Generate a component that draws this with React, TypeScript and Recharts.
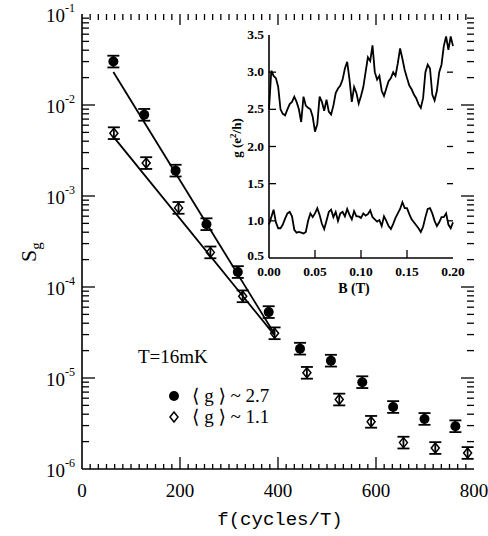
import React from 'react';
import { ComposedChart, Line, Scatter, ErrorBar, XAxis, YAxis } from 'recharts';

const SERIF = '"Liberation Serif", "Times New Roman", "DejaVu Serif", serif';
const MONO = '"Liberation Mono", "Courier New", "DejaVu Sans Mono", monospace';

// main panel: S_g vs f, <g> ~ 2.7 (filled) and <g> ~ 1.1 (open)
const fFilled = [64, 127, 191, 254, 318, 381, 445, 508, 572, 635, 699, 762];
const sFilled = [0.03, 0.0078, 0.0019, 4.9e-4, 1.46e-4, 5.3e-5, 2.1e-5, 1.55e-5, 9.0e-6, 4.8e-6, 3.55e-6, 2.95e-6];
const fOpen = [65, 131, 197, 262, 328, 393, 459, 525, 590, 656, 721, 787];
const sOpen = [0.0049, 0.0023, 7.4e-4, 2.4e-4, 7.9e-5, 3.1e-5, 1.14e-5, 5.8e-6, 3.3e-6, 1.95e-6, 1.7e-6, 1.5e-6];
const ERR = 1.16; // error bars, roughly +/-16 %

// straight fits (in log) drawn over the first six points
const fitFilledF = [64, 392];
const fitFilledS = [0.023, 3.1e-5];
const fitOpenF = [64, 392];
const fitOpenS = [0.0045, 3.0e-5];

// inset: g(B) traces
const B_STEP = 0.0025;
const gHigh = [
  2.5, 3.02, 2.95, 2.92, 2.8, 2.5, 2.44, 2.42, 2.5, 2.57, 2.6, 2.67, 2.6, 2.5, 2.33, 2.67, 2.55, 2.52, 2.5, 2.4,
  2.2, 2.3, 2.67, 2.6, 2.48, 2.63, 2.47, 2.43, 2.55, 2.72, 2.78, 2.82, 2.9, 3.05, 3.14, 2.9, 2.6, 2.8, 2.72, 2.58,
  2.68, 2.8, 3.0, 3.2, 3.15, 3.36, 3.0, 2.9, 2.95, 2.75, 2.68, 2.78, 2.88, 2.92, 3.0, 2.95, 3.12, 3.32, 3.18, 3.03,
  2.92, 2.82, 2.77, 2.7, 2.65, 2.57, 2.52, 2.65, 3.0, 3.1, 3.05, 2.7, 2.62, 2.75, 3.0, 3.1, 3.35, 3.48, 3.3, 3.48,
  3.35,
];
const gLow = [
  0.95, 1.05, 1.15, 0.98, 0.9, 0.9, 0.95, 1.03, 1.1, 1.12, 1.06, 0.88, 0.84, 0.85, 0.84, 0.83, 0.85, 1.0, 1.1, 1.05,
  1.1, 1.17, 1.08, 0.96, 0.89, 1.0, 1.12, 1.15, 1.05, 1.12, 1.0, 1.1, 1.12, 1.06, 1.16, 1.08, 1.02, 1.13, 1.06, 1.06,
  1.04, 1.1, 1.07, 1.09, 1.14, 1.05, 1.02, 0.99, 1.01, 0.93, 1.06, 1.0, 0.93, 0.89, 0.96, 1.04, 1.1, 1.16, 1.25, 1.17,
  1.17, 1.09, 1.02, 0.98, 0.94, 0.9, 0.85, 0.92, 1.05, 1.16, 1.17, 1.1, 1.0, 0.93, 0.98, 1.05, 1.05, 1.1, 0.95, 0.9,
  0.98,
];

// ticks
const X_MIN = 0;
const X_MAX = 800;
const Y_MIN = 1e-6;
const Y_MAX = 1e-1;
const xLabelTicks = [0, 200, 400, 600, 800];
const xTicks = Array.from({ length: 49 }, (_, i) => (i * 200) / 12);
const decades = [1e-6, 1e-5, 1e-4, 1e-3, 1e-2, 1e-1];
const yTicks: number[] = [];
decades.forEach((d, i) => {
  yTicks.push(d);
  if (i < decades.length - 1) for (let k = 2; k <= 9; k++) yTicks.push(d * k);
});
const insetYTicks = [0.5, 1.0, 1.5, 2.0, 2.5, 3.0, 3.5];
const insetYInner = [1.0, 1.5, 2.0, 2.5, 3.0];
const insetXTicks = [0, 0.05, 0.1, 0.15, 0.2];
const insetXInner = [0.05, 0.1, 0.15];

const withErr = (f: number[], s: number[]) =>
  f.map((x, i) => ({ f: x, s: s[i], err: [s[i] - s[i] / ERR, s[i] * ERR - s[i]] }));
const filledData = withErr(fFilled, sFilled);
const openData = withErr(fOpen, sOpen);
const fitFilled = fitFilledF.map((x, i) => ({ f: x, s: fitFilledS[i] }));
const fitOpen = fitOpenF.map((x, i) => ({ f: x, s: fitOpenS[i] }));
const insetData = gHigh.map((g, i) => ({ b: i * B_STEP, hi: g, lo: gLow[i] }));

// tick-mark anchors on the frame, placed through the chart scales
const innerX = xTicks.filter((v) => v > X_MIN && v < X_MAX);
const innerY = yTicks.filter((v) => v > Y_MIN && v < Y_MAX);
const bottomMarks = innerX.map((f) => ({ f, s: Y_MIN }));
const topMarks = innerX.map((f) => ({ f, s: Y_MAX }));
const leftMarks = innerY.map((s) => ({ f: X_MIN, s }));
const rightMarks = innerY.map((s) => ({ f: X_MAX, s }));
const insetBottomMarks = insetXInner.map((b) => ({ b, m: 0.5 }));
const insetLeftMarks = insetYInner.map((m) => ({ b: 0, m }));
const insetRightMarks = insetYInner.map((m) => ({ b: 0.2, m }));

const isDecade = (v: number) => Math.abs(Math.log10(v) - Math.round(Math.log10(v))) < 1e-6;
const isMajorX = (v: number) => Math.abs(v - Math.round(v)) < 1e-6 && Math.round(v) % 200 === 0;

const mark = (d: string) => <path d={d} stroke="#000" strokeWidth={1.3} fill="none" />;
const BottomMark = (p: any) => mark(`M${p.cx},${p.cy}V${p.cy - (isMajorX(p.payload.f) ? 12 : 5)}`);
const TopMark = (p: any) => mark(`M${p.cx},${p.cy}V${p.cy + (isMajorX(p.payload.f) ? 11 : 6)}`);
const LeftMark = (p: any) => mark(`M${p.cx},${p.cy}H${p.cx + (isDecade(p.payload.s) ? 13 : 7)}`);
const RightMark = (p: any) => mark(`M${p.cx},${p.cy}H${p.cx - (isDecade(p.payload.s) ? 13 : 7)}`);
const InsetBottomMark = (p: any) => mark(`M${p.cx},${p.cy}V${p.cy - 8}`);
const InsetLeftMark = (p: any) => mark(`M${p.cx},${p.cy}H${p.cx + 7}`);
const InsetRightMark = (p: any) => mark(`M${p.cx},${p.cy}H${p.cx - 6}`);

// axis labels (x/y arrive on the axis line: tickSize 0, tickMargin 0)
const BottomLabel = ({ x, y, payload }: any) => (
  <text x={x} y={y + 28} textAnchor="middle" fontSize={19} fontFamily={SERIF} fill="#000">
    {Math.round(payload.value)}
  </text>
);

const LeftLabel = ({ x, y, payload }: any) => (
  <text x={x - 7} y={y + 8} textAnchor="end" fontSize={19} fontFamily={SERIF} fill="#000">
    10
    <tspan dy={-10} fontSize={12}>
      {Math.round(Math.log10(payload.value))}
    </tspan>
  </text>
);

const InsetLeftLabel = ({ x, y, payload }: any) => (
  <text x={x - 5} y={y + (payload.value === 0.5 ? 2 : 4)} textAnchor="end" fontSize={13.5} fontWeight="bold" fontFamily={SERIF} fill="#000">
    {payload.value.toFixed(1)}
  </text>
);

const InsetBottomLabel = ({ x, y, payload }: any) => (
  <text x={x} y={y + 18} textAnchor="middle" fontSize={13.5} fontWeight="bold" fontFamily={SERIF} fill="#000">
    {payload.value.toFixed(2)}
  </text>
);

const FilledDot = (p: any) => <circle cx={p.cx} cy={p.cy} r={5} fill="#000" />;
const OpenDiamond = (p: any) => (
  <path
    d={`M${p.cx},${p.cy - 5} L${p.cx + 4},${p.cy} L${p.cx},${p.cy + 5} L${p.cx - 4},${p.cy} Z`}
    fill="none"
    stroke="#000"
    strokeWidth={1.5}
  />
);

const axisStroke = { stroke: '#000', strokeWidth: 1.6 };

export default function App() {
  return (
    <div style={{ position: 'relative', width: 488, height: 536, background: '#fff' }}>
      <style>{'body{margin:0;background:#fff}'}</style>
      <ComposedChart width={488} height={536} margin={{ top: 14, right: 14, bottom: 37, left: 22 }}>
        <XAxis
          type="number"
          dataKey="f"
          domain={[X_MIN, X_MAX]}
          ticks={xLabelTicks}
          interval={0}
          height={30}
          tick={BottomLabel}
          tickLine={false}
          tickSize={0}
          tickMargin={0}
          axisLine={axisStroke}
          allowDataOverflow
        />
        <XAxis
          xAxisId="top"
          orientation="top"
          type="number"
          dataKey="f"
          domain={[X_MIN, X_MAX]}
          height={0}
          tick={false}
          tickLine={false}
          axisLine={axisStroke}
          allowDataOverflow
        />
        <YAxis
          type="number"
          scale="log"
          domain={[Y_MIN, Y_MAX]}
          ticks={decades}
          interval={0}
          width={60}
          tick={LeftLabel}
          tickLine={false}
          tickSize={0}
          tickMargin={0}
          axisLine={axisStroke}
          allowDataOverflow
        />
        <YAxis
          yAxisId="right"
          orientation="right"
          type="number"
          scale="log"
          domain={[Y_MIN, Y_MAX]}
          width={0}
          tick={false}
          tickLine={false}
          axisLine={axisStroke}
          allowDataOverflow
        />
        <Scatter data={bottomMarks} dataKey="s" shape={BottomMark} isAnimationActive={false} />
        <Scatter data={topMarks} dataKey="s" shape={TopMark} isAnimationActive={false} />
        <Scatter data={leftMarks} dataKey="s" shape={LeftMark} isAnimationActive={false} />
        <Scatter data={rightMarks} dataKey="s" shape={RightMark} isAnimationActive={false} />
        <Line data={fitFilled} dataKey="s" stroke="#000" strokeWidth={1.8} dot={false} isAnimationActive={false} />
        <Line data={fitOpen} dataKey="s" stroke="#000" strokeWidth={1.8} dot={false} isAnimationActive={false} />
        <Scatter data={filledData} dataKey="s" shape={FilledDot} isAnimationActive={false}>
          <ErrorBar dataKey="err" direction="y" width={6} stroke="#000" strokeWidth={1.8} isAnimationActive={false} />
        </Scatter>
        <Scatter data={openData} dataKey="s" shape={OpenDiamond} isAnimationActive={false}>
          <ErrorBar dataKey="err" direction="y" width={6} stroke="#000" strokeWidth={1.8} isAnimationActive={false} />
        </Scatter>
      </ComposedChart>

      {/* inset g(B) */}
      <div style={{ position: 'absolute', left: 0, top: 0 }}>
        <ComposedChart width={488} height={300} data={insetData} margin={{ top: 35, right: 35, bottom: 12, left: 229 }}>
          <XAxis
            type="number"
            dataKey="b"
            domain={[0, 0.2]}
            ticks={insetXTicks}
            interval={0}
            height={30}
            tick={InsetBottomLabel}
            tickLine={false}
            tickSize={0}
            tickMargin={0}
            axisLine={axisStroke}
          />
          <XAxis xAxisId="top" orientation="top" type="number" dataKey="b" domain={[0, 0.2]} height={0} tick={false} tickLine={false} axisLine={axisStroke} />
          <YAxis
            type="number"
            domain={[0.5, 3.5]}
            ticks={insetYTicks}
            interval={0}
            width={40}
            tick={InsetLeftLabel}
            tickLine={false}
            tickSize={0}
            tickMargin={0}
            axisLine={axisStroke}
            allowDataOverflow
          />
          <YAxis yAxisId="right" orientation="right" type="number" domain={[0.5, 3.5]} width={0} tick={false} tickLine={false} axisLine={axisStroke} />
          <Scatter data={insetBottomMarks} dataKey="m" shape={InsetBottomMark} isAnimationActive={false} />
          <Scatter data={insetLeftMarks} dataKey="m" shape={InsetLeftMark} isAnimationActive={false} />
          <Scatter data={insetRightMarks} dataKey="m" shape={InsetRightMark} isAnimationActive={false} />
          <Line dataKey="hi" stroke="#000" strokeWidth={1.8} dot={false} isAnimationActive={false} />
          <Line dataKey="lo" stroke="#000" strokeWidth={1.8} dot={false} isAnimationActive={false} />
        </ComposedChart>
      </div>

      {/* labels and key */}
      <svg width={488} height={536} style={{ position: 'absolute', left: 0, top: 0, pointerEvents: 'none' }}>
        <text transform="translate(36,262) rotate(-90)" fontSize={22} fontFamily={SERIF} fill="#000">
          S<tspan dy={5} fontSize={15}>g</tspan>
        </text>
        <text x={280} y={525} textAnchor="middle" fontSize={19} fontFamily={MONO} fill="#000">
          f(cycles/T)
        </text>
        <text x={354} y={293} textAnchor="middle" fontSize={14} fontWeight="bold" fontFamily={SERIF} fill="#000">
          B (T)
        </text>
        <text transform="translate(241,138) rotate(-90)" textAnchor="middle" fontSize={13} fontWeight="bold" fontFamily={SERIF} fill="#000">
          g (e<tspan dy={-5} fontSize={9}>2</tspan>
          <tspan dy={5}>/h)</tspan>
        </text>
        <text x={138} y={363} fontSize={19} fontFamily={SERIF} fill="#000">
          T=16mK
        </text>
        <circle cx={174} cy={396} r={5} fill="#000" />
        <text x={192} y={402} fontSize={19} fontFamily={SERIF} fill="#000">
          ⟨ g ⟩ ~ 2.7
        </text>
        <path d="M174,412 L178,417 L174,422 L170,417 Z" fill="none" stroke="#000" strokeWidth={1.5} />
        <text x={192} y={423} fontSize={19} fontFamily={SERIF} fill="#000">
          ⟨ g ⟩ ~ 1.1
        </text>
      </svg>
    </div>
  );
}
